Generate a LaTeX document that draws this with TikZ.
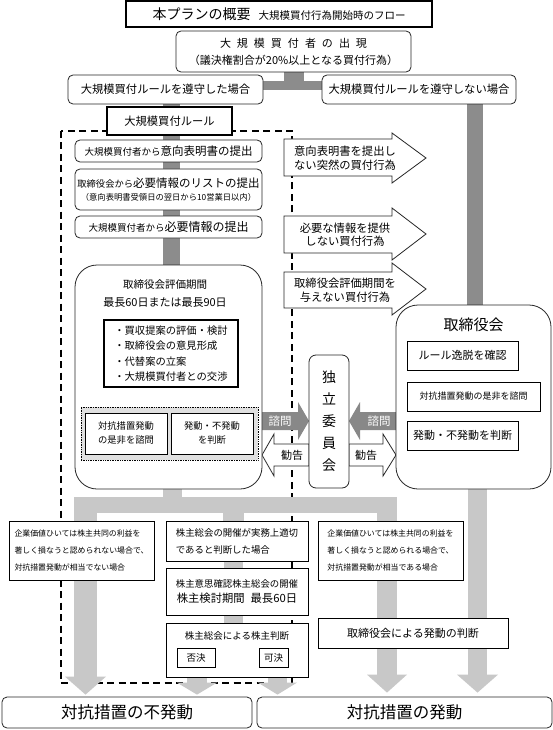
\documentclass[tikz,border=0pt]{standalone}
\usepackage{fontspec}
\setmainfont{Noto Sans CJK JP}
\usetikzlibrary{arrows.meta}
\pgfdeclarelayer{back}
\pgfdeclarelayer{background}
\pgfsetlayers{back,background,main}
\definecolor{dg}{HTML}{8C8C8C}
\definecolor{lg}{HTML}{C8C8C8}
\definecolor{rg}{HTML}{E0E0E0}
\definecolor{ag}{HTML}{888888}
\newcommand\fz[2]{\fontsize{#1pt}{#2pt}\selectfont}
\newcommand\gapp{\hspace{6pt}}
\begin{document}
\begin{tikzpicture}[x=1pt,y=-1pt,
  every node/.style={inner sep=0pt, align=center},
  rbox/.style={draw=black!85, line width=0.8pt, rounded corners=5pt, fill=white},
  sbox/.style={draw=black, line width=0.9pt, fill=white},
  oarrow/.style={draw=black!85, line width=0.8pt, fill=white},
  karrow/.style={fill=ag},
  dflow/.style={draw=dg},
  lflow/.style={draw=lg},
  ltip/.style={-{Triangle[width=#1, length=18pt, line width=0pt]}},
]
\useasboundingbox (0,0) rectangle (553,730);

% ---------- nodes ----------
\node[sbox, line width=1.1pt, minimum width=306pt, minimum height=26pt] (title) at (279,14)
  {{\fz{14}{16}本プランの概要}\hspace{8pt}{\fz{10.5}{12}大規模買付行為開始時のフロー}};
\node[rbox, minimum width=235pt, minimum height=41pt, font=\fz{11}{17}] (appear) at (293.5,51.5)
  {大\gapp 規\gapp 模\gapp 買\gapp 付\gapp 者\gapp の\gapp 出\gapp 現\\（議決権割合が20\%以上となる買付行為）};
\node[rbox, minimum width=195pt, minimum height=29pt, font=\fz{11.3}{13}] (comply) at (165.5,89.5) {大規模買付ルールを遵守した場合};
\node[rbox, minimum width=194pt, minimum height=29pt, font=\fz{11.3}{13}] (noncomply) at (419,89.5) {大規模買付ルールを遵守しない場合};
\node[sbox, line width=1.6pt, minimum width=125pt, minimum height=28pt, font=\fz{11.3}{13}] (rule) at (169.5,121) {大規模買付ルール};

\node[rbox, minimum width=187pt, minimum height=22pt, font=\fz{11.5}{13}] (s1) at (168.5,151)
  {{\fz{9.5}{11}大規模買付者から}意向表明書の提出};
\node[rbox, minimum width=187pt, minimum height=41pt, font=\fz{11.5}{13}] (s2) at (168.5,189.5)
  {{\fz{9.3}{11}取締役会から}必要情報のリストの提出\\{\fz{8.3}{10}（意向表明書受領日の翌日から10営業日以内）}};
\node[rbox, minimum width=187pt, minimum height=22pt, font=\fz{11.5}{13}] (s3) at (168.5,227)
  {{\fz{9.5}{11}大規模買付者から}{\fz{12}{13}必要情報の提出}};

\node[rbox, rounded corners=22pt, minimum width=187pt, minimum height=224pt] (eval) at (168.5,377) {};
\node[font=\fz{10.5}{13}] (evalT) at (165,285) {取締役会評価期間};
\node[font=\fz{11}{13}] (evalP) at (165,303) {最長60日または最長90日};
\node[sbox, line width=1.5pt, minimum width=134pt, minimum height=67pt, align=left, font=\fz{10.3}{15.3}] (tasks) at (171,353.5)
  {・買収提案の評価・検討\\・取締役会の意見形成\\・代替案の立案\\・大規模買付者との交渉};
\node[draw=black, densely dotted, line width=0.7pt, fill=rg, minimum width=177pt, minimum height=53pt] (dotreg) at (169.5,433.5) {};
\node[sbox, minimum width=82pt, minimum height=41pt, font=\fz{9.3}{14}] (e1) at (126,433.5) {対抗措置発動\\の是非を諮問};
\node[sbox, minimum width=82pt, minimum height=41pt, font=\fz{9.3}{14}] (e2) at (212,433.5) {発動・不発動\\を判断};

\node[rbox, rounded corners=7pt, minimum width=40pt, minimum height=133pt, font=\fz{14}{22}] (comm) at (329,421.5) {独\\立\\委\\員\\会};

\node[rbox, rounded corners=22pt, minimum width=155pt, minimum height=184pt] (board) at (473.5,397) {};
\node[font=\fz{15}{17}] (boardT) at (473.5,325) {取締役会};
\node[sbox, minimum width=111pt, minimum height=29pt, font=\fz{11}{13}] (c1) at (462.5,355.5) {ルール逸脱を確認};
\node[sbox, minimum width=133pt, minimum height=29pt, font=\fz{9}{11}] (c2) at (473.5,396.5) {対抗措置発動の是非を諮問};
\node[sbox, minimum width=111pt, minimum height=29pt, font=\fz{11}{13}] (c3) at (462.5,435.5) {発動・不発動を判断};

\node[sbox, minimum width=145pt, minimum height=59pt, align=left, font=\fz{7.9}{17}] (lt) at (81.5,550.5)
  {企業価値ひいては株主共同の利益を\\著しく損なうと認められない場合で、\\対抗措置発動が相当でない場合};
\node[sbox, minimum width=142pt, minimum height=40pt, align=left, font=\fz{9.4}{17}] (m1) at (237,541)
  {株主総会の開催が実務上適切\\であると判断した場合};
\node[sbox, minimum width=142pt, minimum height=47pt, font=\fz{9.4}{15}] (m2) at (237,591.5)
  {株主意思確認株主総会の開催\\{\fz{11.3}{13}株主検討期間\hspace{6pt}最長60日}};
\node[sbox, minimum width=142pt, minimum height=54pt] (m3) at (237,650) {};
\node[font=\fz{9.5}{11}] (m3t) at (237,636) {株主総会による株主判断};
\node[sbox, minimum width=38pt, minimum height=19pt, font=\fz{9.5}{11}] (rej) at (196,657.5) {否決};
\node[sbox, minimum width=29pt, minimum height=19pt, font=\fz{9.5}{11}] (acc) at (273.5,657.5) {可決};
\node[sbox, minimum width=145pt, minimum height=59pt, align=left, font=\fz{7.9}{17}] (rt) at (390.5,550.5)
  {企業価値ひいては株主共同の利益を\\著しく損なうと認められる場合で、\\対抗措置発動が相当である場合};
\node[sbox, minimum width=190pt, minimum height=30pt, font=\fz{11}{13}] (bj) at (413,633) {取締役会による発動の判断};
\node[rbox, minimum width=250pt, minimum height=31pt, font=\fz{16.5}{18}] (botL) at (127,712.5) {対抗措置の不発動};
\node[rbox, minimum width=295pt, minimum height=31pt, font=\fz{16.5}{18}] (botR) at (404.5,712.5) {対抗措置の発動};

% arrow labels
\node[font=\fz{11.3}{13.5}] (a1t) at (345,158) {意向表明書を提出し\\ない突然の買付行為};
\node[font=\fz{11.3}{13.5}] (a2t) at (345,234.5) {必要な情報を提供\\しない買付行為};
\node[font=\fz{11.3}{13.5}] (a3t) at (345,290) {取締役会評価期間を\\与えない買付行為};
\node[text=white, font=\fz{11.5}{13}] (k1) at (280,421) {諮問};
\node[text=white, font=\fz{11.5}{13}] (k2) at (379,421) {諮問};
\node[font=\fz{11}{13}] (r1) at (292,455) {勧告};
\node[font=\fz{11}{13}] (r2) at (366,455) {勧告};

% ---------- back layer ----------
\begin{pgfonlayer}{back}
\fill[white] (0,0) rectangle (553,730);
\draw[dash pattern=on 7pt off 4.5pt, line width=1.6pt] (61,131) rectangle (292,683);
\end{pgfonlayer}

% ---------- connectors ----------
\begin{pgfonlayer}{background}
\coordinate (yTop) at (0,85.5);
\draw[dflow, line width=9pt] (comply.east |- yTop) -- (noncomply.west |- yTop);
\draw[dflow, line width=20pt] (appear.south) -- (appear.south |- yTop);
\draw[dflow, line width=17pt] ([xshift=5.5pt]comply.south) -- ([xshift=5.5pt]comply.south |- eval.north);
\draw[dflow, line width=16pt] ([xshift=1pt]board.north) -- ([xshift=1pt]board.north |- noncomply.south);

\coordinate (jL) at (74,505);
\coordinate (jR) at (397,505);
\coordinate (cL) at (85.5,497);
\coordinate (cM) at (233.5,505);
\coordinate (cR) at (387,497);
\draw[lflow, line width=19pt] ([xshift=4pt]eval.south) -- ([xshift=4pt]eval.south |- jL);
\draw[lflow, line width=16pt] (jL) -- (jR);
\draw[lflow, line width=23pt, ltip=41pt, shorten >=2pt] (cL) -- (cL |- botL.north);
\draw[lflow, line width=21pt] (cM) -- (cM |- m1.north);
\draw[lflow, line width=19pt] (cM |- m1.south) -- (cM |- m2.north);
\draw[lflow, line width=19pt] (cM |- m2.south) -- (cM |- m3.north);
\draw[lflow, line width=20pt, ltip=40pt, shorten >=4pt] (cR) -- (cR |- botR.north);
\draw[lflow, line width=19pt, ltip=41pt, shorten >=4pt] ([xshift=4pt]board.south) -- ([xshift=4pt]board.south |- botR.north);
\draw[lflow, line width=20pt, -{Triangle[width=40pt, length=12pt, line width=0pt]}, shorten >=2pt] ([xshift=1pt]rej.south) -- ([xshift=1pt]rej.south |- botL.north);
\draw[lflow, line width=19pt, -{Triangle[width=39pt, length=12pt, line width=0pt]}, shorten >=2pt] ([xshift=4pt]acc.south) -- ([xshift=4pt]acc.south |- botR.north);

% outline arrows
\path[oarrow] (284,139) -- (392,139) -- (392,133) -- (426,158) -- (392,183) -- (392,176) -- (284,176) -- cycle;
\path[oarrow] (284,216) -- (392,216) -- (392,208) -- (426,234) -- (392,260) -- (392,253) -- (284,253) -- cycle;
\path[oarrow] (284,272) -- (392,272) -- (392,263) -- (426,289) -- (392,315) -- (392,308) -- (284,308) -- cycle;
\path[karrow] (262,412) -- (298,412) -- (298,402) -- (309,421) -- (298,440) -- (298,430) -- (262,430) -- cycle;
\path[oarrow] (309,444) -- (274,444) -- (274,434) -- (262,455) -- (274,476) -- (274,466) -- (309,466) -- cycle;
\path[karrow] (397,412) -- (360,412) -- (360,402) -- (349,421) -- (360,440) -- (360,430) -- (397,430) -- cycle;
\path[oarrow] (349,444) -- (383,444) -- (383,434) -- (396,455) -- (383,476) -- (383,466) -- (349,466) -- cycle;
\end{pgfonlayer}
\end{tikzpicture}
\end{document}
